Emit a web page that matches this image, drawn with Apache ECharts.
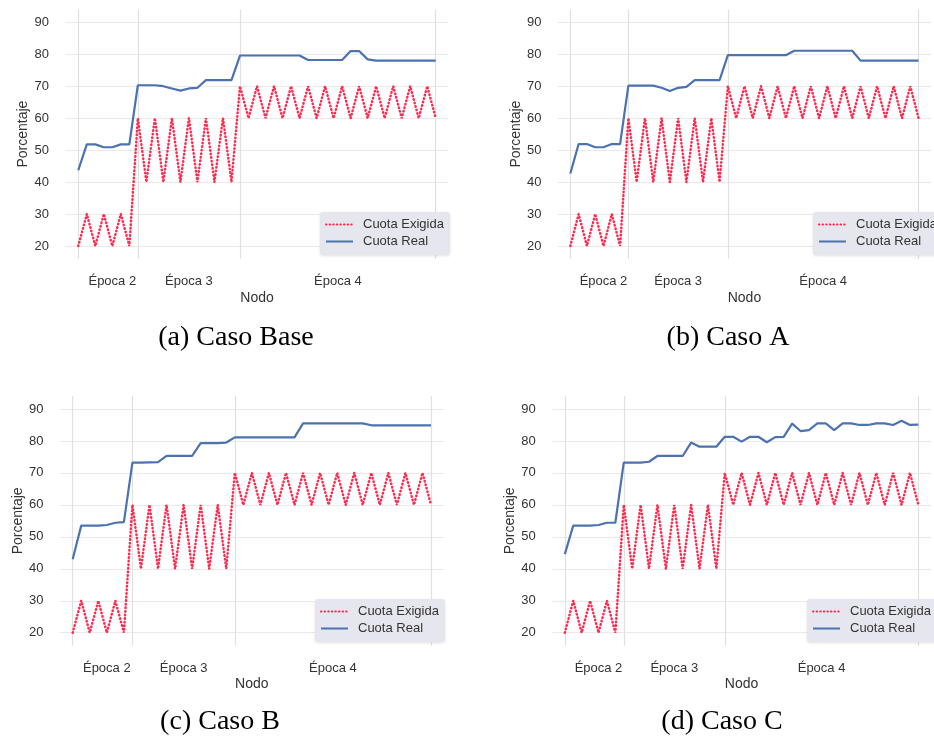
<!DOCTYPE html>
<html>
<head>
<meta charset="utf-8">
<script src="https://cdn.jsdelivr.net/npm/echarts@6/dist/echarts.min.js"></script>
<style>
html,body{margin:0;padding:0;background:#ffffff;}
#chart{width:934px;height:743px;}
</style>
</head>
<body>
<div id="chart"></div>
<script>
// ---------------- DATA ----------------
const nodes = [0,1,2,3,4,5,6,7,8,9,10,11,12,13,14,15,16,17,18,19,20,21,22,23,24,25,26,27,28,29,30,31,32,33,34,35,36,37,38,39,40,41,42];

const epochBoundaries = [0, 7, 19, 42];
const epochLabelPos = [4, 13, 30.5];
const epochLabels = ['Época 2', 'Época 3', 'Época 4'];

const cuotaExigida = [
  20,30,20,30,20,30,20,
  60,40,60,40,60,40,60,40,60,40,60,40,
  70,60,70,60,70,60,70,60,70,60,70,60,70,60,70,60,70,60,70,60,70,60,70,60
];

const realCasoBase = [
  43.7,51.8,51.8,50.9,50.9,51.8,51.8,
  70.3,70.3,70.3,70.0,69.3,68.6,69.3,69.5,71.9,71.9,71.9,71.9,
  79.6,79.6,79.6,79.6,79.6,79.6,79.6,79.6,78.2,78.2,78.2,78.2,78.2,81.0,81.0,78.4,78.0,78.0,78.0,78.0,78.0,78.0,78.0,78.0
];
const realCasoA = [
  42.7,51.9,51.9,50.9,50.9,51.9,51.9,
  70.2,70.2,70.2,70.2,69.5,68.5,69.5,69.8,71.9,71.9,71.9,71.9,
  79.7,79.7,79.7,79.7,79.7,79.7,79.7,79.7,81.1,81.1,81.1,81.1,81.1,81.1,81.1,81.1,78.0,78.0,78.0,78.0,78.0,78.0,78.0,78.0
];
const realCasoB = [
  43.0,53.5,53.5,53.5,53.7,54.4,54.6,
  73.2,73.2,73.3,73.4,75.3,75.3,75.3,75.3,79.3,79.3,79.3,79.5,
  81.1,81.1,81.1,81.1,81.1,81.1,81.1,81.1,85.5,85.5,85.5,85.5,85.5,85.5,85.5,85.5,84.9,84.9,84.9,84.9,84.9,84.9,84.9,84.9
];
const realCasoC = [
  44.6,53.5,53.5,53.5,53.7,54.4,54.4,
  73.2,73.2,73.2,73.5,75.3,75.3,75.3,75.3,79.5,78.2,78.2,78.2,
  81.3,81.3,79.8,81.3,81.3,79.6,81.2,81.3,85.4,83.1,83.4,85.5,85.5,83.4,85.5,85.5,85.0,85.0,85.5,85.5,85.0,86.3,85.0,85.1
];

const seriesNames = ['Cuota Exigida', 'Cuota Real'];
const captionTexts = ['(a) Caso Base', '(b) Caso A', '(c) Caso B', '(d) Caso C'];
const axisNameX = 'Nodo';
const axisNameY = 'Porcentaje';

// ---------------- LAYOUT / STYLE ----------------
const realSets = [realCasoBase, realCasoA, realCasoB, realCasoC];
const panels = [
  {left: 65.5, top: 9.5,   width: 383.0, height: 249.3, legend: [320, 212], caption: [236, 338]},
  {left: 557.9, top: 9.5,  width: 382.1, height: 249.3, legend: [813, 212], caption: [728, 338]},
  {left: 59.9, top: 396.2, width: 383.9, height: 249.3, legend: [315, 599], caption: [220, 722]},
  {left: 552.2, top: 396.2,width: 382.8, height: 249.3, legend: [807, 599], caption: [722, 722]}
];
const FONT = '"Liberation Sans", Arial, sans-serif';
const TXT = '#333333';
const RED = '#ff2a50';
const BLUE = '#4c72b0';
const T = 'rgba(0,0,0,0)';

const grid = [], xAxis = [], yAxis = [], series = [], legend = [], graphic = [];

panels.forEach((p, k) => {
  grid.push({left: p.left, top: p.top, width: p.width, height: p.height, containLabel: false});
  xAxis.push({
    gridIndex: k, type: 'value', min: -1.5, max: 43.5, interval: 0.5,
    axisLine: {show: false}, axisTick: {show: false}, splitLine: {show: false},
    axisLabel: {
      margin: 16, fontSize: 13, color: TXT, fontFamily: FONT,
      formatter: function (v) {
        const i = epochLabelPos.indexOf(v);
        return i >= 0 ? epochLabels[i] : '';
      }
    },
    name: axisNameX, nameLocation: 'middle', nameGap: 32,
    nameTextStyle: {fontSize: 14, color: TXT, fontFamily: FONT}
  });
  yAxis.push({
    gridIndex: k, type: 'value', min: 16, max: 94, interval: 2,
    axisLine: {show: false}, axisTick: {show: false},
    splitLine: {show: true, lineStyle: {color: [T, T, '#e9e9e9', T, T], width: 1}},
    axisLabel: {
      margin: 16.5, fontSize: 13, color: TXT, fontFamily: FONT,
      formatter: function (v) { return (Math.round(v) % 10 === 0) ? String(Math.round(v)) : ''; }
    },
    name: axisNameY, nameLocation: 'middle', nameGap: 35,
    nameTextStyle: {fontSize: 14, color: TXT, fontFamily: FONT}
  });
  // epoch boundary grid lines
  series.push({
    type: 'line', xAxisIndex: k, yAxisIndex: k, data: [], z: 1, silent: true,
    markLine: {
      silent: true, symbol: 'none', z: 1, animation: false,
      label: {show: false},
      lineStyle: {color: '#e0e0e0', width: 1.2, type: 'solid'},
      emphasis: {disabled: true},
      data: epochBoundaries.map(b => ({xAxis: b}))
    }
  });
  series.push({
    type: 'line', name: seriesNames[0], xAxisIndex: k, yAxisIndex: k, z: 3,
    data: nodes.map((n, i) => [n, cuotaExigida[i]]),
    symbol: 'none', silent: true,
    lineStyle: {color: RED, width: 2.5, type: [0.5, 3.1], cap: 'round'},
    itemStyle: {color: RED}
  });
  series.push({
    type: 'line', name: seriesNames[1], xAxisIndex: k, yAxisIndex: k, z: 4,
    data: nodes.map((n, i) => [n, realSets[k][i]]),
    symbol: 'none', silent: true,
    lineStyle: {color: BLUE, width: 2.2},
    itemStyle: {color: BLUE}
  });
  legend.push({
    left: p.legend[0], top: p.legend[1], orient: 'vertical',
    data: seriesNames, selectedMode: false,
    itemWidth: 27, itemHeight: 14, itemGap: 4,
    padding: [6, 6, 7, 5],
    backgroundColor: '#e6e6ee', borderRadius: 3,
    shadowBlur: 3, shadowColor: 'rgba(0,0,0,0.12)', shadowOffsetY: 1,
    itemStyle: {opacity: 0},
    textStyle: {fontSize: 13, color: TXT, fontFamily: FONT, padding: [0, 0, 0, 5]}
  });
  graphic.push({
    type: 'text', x: p.caption[0], y: p.caption[1],
    style: {text: captionTexts[k], fill: '#000', font: '28px "Liberation Serif", "Times New Roman", serif',
            align: 'center', verticalAlign: 'middle'}
  });
});

const chart = echarts.init(document.getElementById('chart'), null, {renderer: 'canvas'});
chart.setOption({
  animation: false,
  backgroundColor: '#ffffff',
  grid, xAxis, yAxis, series, legend, graphic
});
</script>
</body>
</html>
